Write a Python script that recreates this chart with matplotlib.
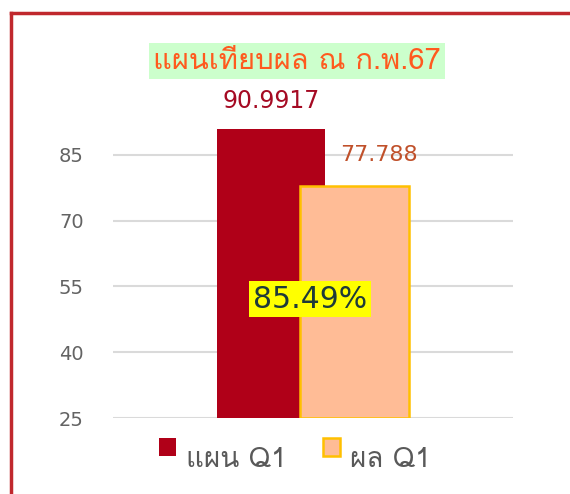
import matplotlib
matplotlib.use("Agg")
import matplotlib.pyplot as plt
from matplotlib import font_manager
from matplotlib.ft2font import FT2Font
from matplotlib.patches import Rectangle
from matplotlib.lines import Line2D

# ---------------- data ----------------
title = "แผนเทียบผล ณ ก.พ.67"
series_names = ["แผน Q1", "ผล Q1"]
values = [90.9917, 77.788]
value_labels = ["90.9917", "77.788"]
y_ticks = [25, 40, 55, 70, 85]

# ---------------- fonts ----------------
def find_thai_font():
    prefs = []
    for f in font_manager.fontManager.ttflist:
        try:
            cm = FT2Font(f.fname).get_charmap()
        except Exception:
            continue
        if 0x0E41 in cm and 0x0E1C in cm:
            prefs.append(f.name)
    return prefs

thai = find_thai_font()
families = (thai[:1] if thai else []) + ["DejaVu Sans"]
plt.rcParams["font.family"] = families

W, H = 570, 494
fig = plt.figure(figsize=(W / 100, H / 100), dpi=100)
fig.patch.set_facecolor("white")

def fx(px):
    return px / W

def fy(py):
    return 1 - py / H

ax = fig.add_axes([fx(113), fy(418), fx(513) - fx(113), fy(111) - fy(418)])
ax.set_facecolor("white")

bar_colors = ["#B00018", "#FFBC96"]
edge_colors = ["#B00018", "#FFC000"]
positions = [0, 1]
width = 1.3
for i, (p, v) in enumerate(zip(positions, values)):
    ax.bar(p, v - 25, bottom=25, width=width, color=bar_colors[i],
           edgecolor=edge_colors[i], linewidth=1.8 if i else 0, zorder=3 + i)

ax.set_xlim(-1.89, 2.90)
ax.set_ylim(25, 95)
ax.set_yticks(y_ticks)
ax.set_yticklabels([str(t) for t in y_ticks], fontsize=14, color="#636363",
                   family="DejaVu Sans")
ax.tick_params(axis="y", length=0, pad=21)
ax.set_xticks([])
for s in ax.spines.values():
    s.set_visible(False)
for t in y_ticks:
    ax.axhline(t, color="#DADADA", lw=1.5, zorder=1)

# value labels
ax.annotate(value_labels[0], (positions[0], values[0]), xytext=(0, 28),
            textcoords="offset pixels", ha="center", va="center",
            fontsize=17, color="#A50A23", annotation_clip=False,
            family="DejaVu Sans")
ax.annotate(value_labels[1], (positions[1], values[1]), xytext=(25, 31),
            textcoords="offset pixels", ha="center", va="center",
            fontsize=16, color="#C0502A", annotation_clip=False,
            family="DejaVu Sans")

# percentage label
pct = values[1] / values[0] * 100
fig.text(fx(310), fy(299), f"{pct:.2f}%", ha="center", va="center",
         fontsize=21.5, color="#1E3A3A", family="DejaVu Sans",
         bbox=dict(boxstyle="square,pad=0.12", fc="#FFFF00", ec="none"),
         zorder=10)

# title
fig.text(fx(297), fy(61), title, ha="center", va="center", fontsize=21,
         color="#FF5A1E",
         bbox=dict(boxstyle="square,pad=0.15", fc="#CCFFCC", ec="none"))

# legend (manual)
legend_items = [(159, 186, 0), (323, 350, 1)]
for sq_x, tx, i in legend_items:
    fig.patches.append(Rectangle((fx(sq_x), fy(456)), fx(17), fy(438) - fy(456),
                                 transform=fig.transFigure, facecolor=bar_colors[i],
                                 edgecolor=edge_colors[i], linewidth=1.8 if i else 0))
    fig.text(fx(tx), fy(460), series_names[i], ha="left", va="center",
             fontsize=20, color="#595959")

# outer red border
fig.add_artist(Line2D([fx(11), fx(11)], [fy(13), 0], transform=fig.transFigure,
                      color="#C0282D", lw=2.5))
fig.add_artist(Line2D([fx(11), 1], [fy(13), fy(13)], transform=fig.transFigure,
                      color="#C0282D", lw=2.5))

fig.savefig("out.png", dpi=100, facecolor="white")
